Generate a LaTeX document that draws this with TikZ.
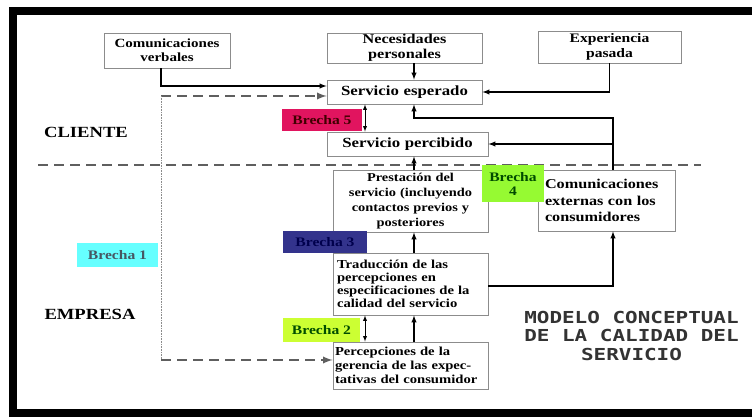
\documentclass[tikz,border=0pt]{standalone}
\usepackage{fontspec}
\setmainfont{Liberation Serif}[FakeStretch=1.2]
\newfontfamily\titlefnt{DejaVu Sans Mono}[FakeStretch=1.27]
\usetikzlibrary{arrows,calc}

\definecolor{brechauno}{RGB}{102,255,255}
\definecolor{brechados}{RGB}{204,255,51}
\definecolor{brechatres}{RGB}{51,51,140}
\definecolor{brechacuatro}{RGB}{150,250,50}
\definecolor{brechacinco}{RGB}{225,20,95}
\definecolor{rayagris}{RGB}{95,95,95}

\newcommand{\boxfont}[2]{\fontsize{#1}{#2}\selectfont\bfseries}

\begin{document}
\begin{tikzpicture}[x=1pt,y=-1pt,
  caja/.style={draw=black!45,line width=0.9pt,fill=white,inner sep=1pt},
  brecha/.style={inner sep=1pt,font=\boxfont{13}{14},align=center},
  conn/.style={draw=black,line width=1.4pt,-latex},
  gaparrow/.style={draw=black,line width=0.9pt,latex-latex},
  dashline/.style={draw=rayagris,line width=2.2pt,dash pattern=on 10pt off 6pt},
  dotline/.style={draw=black!45,line width=0.6pt,densely dotted}]
\useasboundingbox (0,0) rectangle (752,419);
\fill[white] (0,0) rectangle (752,419);
% marco
\fill[black] (9,7) rectangle (752,15);
\fill[black] (9,7) rectangle (17,417);
\fill[black] (9,409) rectangle (752,417);
% ejes de referencia
\coordinate[] (axis) at (414,0);
\coordinate[] (gap) at (365,0);
\coordinate[] (vline) at (161,96);
\coordinate[] (vbot) at (161,360);
\coordinate[] (loopA) at (613,118);
\coordinate[] (divL) at (38,165);
\coordinate[] (divR) at (701,165);
% cliente / empresa
\draw[dashline] (divL) -- (divR);
\node[font=\boxfont{15.5}{16}] (cliente) at (86,132) {CLIENTE};
\node[font=\boxfont{15.5}{16}] (empresa) at (90,314) {EMPRESA};
% cajas
\node[caja,text width=124pt,minimum height=35pt,align=center,font=\boxfont{12.5}{14}] (verbales) at (167,50.5) {Comunicaciones\\verbales};
\node[caja,text width=153pt,minimum height=30pt,align=center,font=\boxfont{13.5}{14.5}] (necesidades) at (404.5,48) {Necesidades\\personales};
\node[caja,text width=141pt,minimum height=32pt,align=center,font=\boxfont{13}{14.5}] (experiencia) at (609.5,47) {Experiencia\\pasada};
\node[caja,text width=153pt,minimum height=24pt,align=center,font=\boxfont{14}{15}] (esperado) at (404.5,92) {Servicio esperado};
\node[caja,text width=159pt,minimum height=24pt,align=center,font=\boxfont{14}{15}] (percibido) at (407.5,144) {Servicio percibido};
\node[caja,text width=153pt,minimum height=62pt,align=center,font=\boxfont{12}{15}] (prestacion) at (410.5,201) {Prestación del\\servicio (incluyendo\\contactos previos y\\posteriores};
\node[caja,inner xsep=7pt,text width=123pt,minimum height=61pt,align=left,font=\boxfont{13.5}{16.5}] (externas) at (606.5,200.5) {Comunicaciones\\externas con los\\consumidores};
\node[caja,inner xsep=4pt,text width=147pt,minimum height=62pt,align=left,font=\boxfont{12.2}{12.8}] (traduccion) at (410.5,284) {Traducción de las\\percepciones en\\especificaciones de la\\calidad del servicio};
\node[caja,inner xsep=2pt,text width=151pt,minimum height=47pt,align=left,font=\boxfont{12.2}{14}] (percepciones) at (410.5,365.5) {Percepciones de la\\gerencia de las expec-\\tativas del consumidor};
% conectores
\draw[conn] (necesidades.south -| axis) -- (esperado.north -| axis);
\draw[conn] (experiencia.south) |- (esperado.east);
\draw[conn] (verbales.south -| vline) |- ($(esperado.west)+(0,-6)$);
\draw[dashline,-latex] (vline) -- (esperado.west |- vline);
\draw[dotline] (vline) -- (vbot);
\draw[dashline,-latex] (vbot) -- (percepciones.west |- vbot);
\draw[conn] (externas.north -| loopA) -- (loopA) -| (esperado.south -| axis);
\draw[conn] (percibido.east -| loopA) -- (percibido.east);
\draw[conn] (prestacion.north -| axis) -- (percibido.south -| axis);
\draw[conn] (traduccion.north -| axis) -- (prestacion.south -| axis);
\draw[conn] (percepciones.north -| axis) -- (traduccion.south -| axis);
\draw[conn] ($(traduccion.east)+(0,2)$) -| (externas.south -| loopA);
\draw[gaparrow] (esperado.south -| gap) -- (percibido.north -| gap);
\draw[gaparrow] (prestacion.south -| gap) -- (traduccion.north -| gap);
\draw[gaparrow] (traduccion.south -| gap) -- (percepciones.north -| gap);
% brechas
\node[brecha,fill=brechacinco,text=black!75!red,minimum width=80pt,minimum height=22pt] (brecha5) at (322,120) {Brecha 5};
\node[brecha,fill=brechatres,text=black!70!blue,minimum width=84pt,minimum height=22pt] (brecha3) at (325,242) {Brecha 3};
\node[brecha,fill=brechados,text=black!70!green,minimum width=77pt,minimum height=24pt] (brecha2) at (321.5,330) {Brecha 2};
\node[brecha,fill=brechauno,text=black!70!cyan,minimum width=81pt,minimum height=24pt] (brecha1) at (117.5,255) {Brecha 1};
\node[brecha,fill=brechacuatro,text=black!70!green,minimum width=62pt,minimum height=37pt] (brecha4) at (513,183.5) {Brecha\\4};
% titulo
\node[align=center,font={\titlefnt\bfseries\fontsize{16.5}{18.5}\selectfont},text=black!80] (titulo) at (631.5,335.5) {MODELO CONCEPTUAL\\DE LA CALIDAD DEL\\SERVICIO};
\end{tikzpicture}
\end{document}
